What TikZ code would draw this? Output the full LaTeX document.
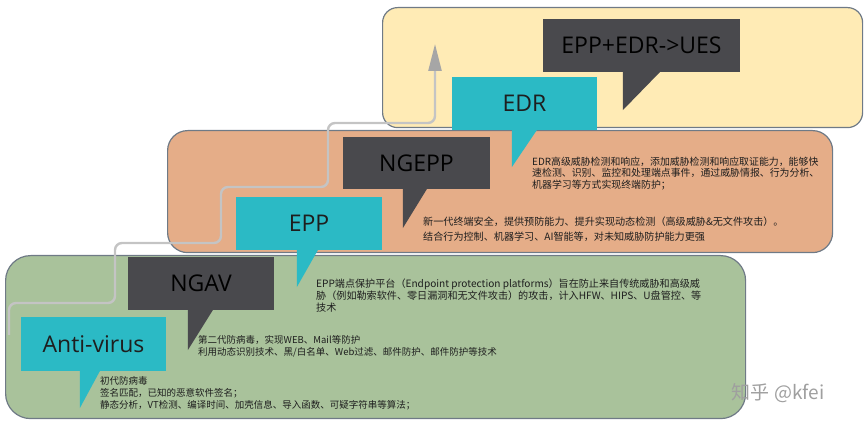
\documentclass[tikz,border=0pt]{standalone}
\usepackage{fontspec}
\setmainfont{Open Sans}
\newfontfamily\cjk{Noto Sans CJK SC}
\usetikzlibrary{calc,arrows.meta}
\definecolor{cteal}{HTML}{2BBAC5}
\definecolor{cdark}{HTML}{49494D}
\definecolor{cgreen}{HTML}{A9C29B}
\definecolor{corange}{HTML}{E5AD88}
\definecolor{cyellow}{HTML}{FFEBB5}
\definecolor{cborder}{HTML}{6F7A86}
\definecolor{cline}{HTML}{C4C4C4}
\definecolor{chead}{HTML}{A6A6A6}
\definecolor{ctext}{HTML}{1E1E1E}
\tikzset{
  stage/.style={draw=cborder, line width=1.2pt, inner sep=0pt, anchor=north west},
  tealbox/.style={fill=cteal, inner sep=0pt, text=ctext, font=\fontsize{23}{23}\selectfont},
  darkbox/.style={fill=cdark, inner sep=0pt, text=black, font=\fontsize{23}{23}\selectfont},
  desc/.style={anchor=north west, inner sep=0pt, align=left, text=ctext, font=\cjk\fontsize{9.5}{12}\selectfont},
  pathline/.style={draw=cline, line width=2.4pt, rounded corners=7pt},
}
\begin{document}
\begin{tikzpicture}[x=1pt,y=-1pt]
\useasboundingbox (0,0) rectangle (865,427);
% stage panels
\node[stage, fill=cyellow, rounded corners=15pt, minimum width=480pt, minimum height=120pt] (ues) at (382,7) {};
\node[stage, fill=corange, rounded corners=20pt, minimum width=665pt, minimum height=122pt] (ngepparea) at (167,130) {};
\node[stage, fill=cgreen, rounded corners=25pt, minimum width=740pt, minimum height=163pt] (avarea) at (5,255) {};
% evolution path
\coordinate (ps) at (9,335);
\coordinate (pe) at (435,44);
\draw[pathline, -{Triangle[length=27pt,width=13pt,color=chead,fill=chead]}]
  (ps) -- (9,303) -- (115,303) -- (115,243) -- (221,243) -- (221,187) -- (328,187) -- (328,123) -- (435,123) -- (pe);
% callouts
\node[darkbox, minimum width=197pt, minimum height=53pt] (uesL) at (641.5,45.5) {EPP+EDR->UES};
\fill[cdark] ($(uesL.south west)+(80,0)$) -- ++(0,38) -- ($(uesL.south west)+(117,0)$) -- cycle;
\node[tealbox, minimum width=145pt, minimum height=53pt] (edrL) at (524.5,103.5) {EDR};
\fill[cteal] ($(edrL.south west)+(60,0)$) -- ++(0,37) -- ($(edrL.south west)+(85,0)$) -- cycle;
\node[darkbox, minimum width=147pt, minimum height=52pt] (ngeppL) at (416.5,163) {NGEPP};
\fill[cdark] ($(ngeppL.south west)+(60,0)$) -- ++(0,39) -- ($(ngeppL.south west)+(84,0)$) -- cycle;
\node[tealbox, minimum width=146pt, minimum height=53pt] (eppL) at (309,223.5) {EPP};
\fill[cteal] ($(eppL.south west)+(61,0)$) -- ++(0,37) -- ($(eppL.south west)+(82,0)$) -- cycle;
\node[darkbox, minimum width=146pt, minimum height=53pt] (ngavL) at (201,283.5) {NGAV};
\fill[cdark] ($(ngavL.south west)+(60,0)$) -- ++(0,40) -- ($(ngavL.south west)+(85,0)$) -- cycle;
\node[tealbox, minimum width=145pt, minimum height=54pt] (avL) at (93.5,344) {Anti-virus};
\fill[cteal] ($(avL.south west)+(59,0)$) -- ++(0,37) -- ($(avL.south west)+(79,0)$) -- cycle;
% descriptions
\node[desc] (avT) at (100,376) {初代防病毒\\签名匹配，已知的恶意软件签名；\\静态分析，VT检测、编译时间、加壳信息、导入函数、可疑字符串等算法；};
\node[desc] (ngavT) at (198,335) {第二代防病毒，实现WEB、Mail等防护\\利用动态识别技术、黑/白名单、Web过滤、邮件防护、邮件防护等技术};
\node[desc, font=\cjk\fontsize{10.1}{12}\selectfont] (eppT) at (316,278.5) {EPP端点保护平台（Endpoint protection platforms）旨在防止来自传统威胁和高级威\\胁（例如勒索软件、零日漏洞和无文件攻击）的攻击，计入HFW、HIPS、U盘管控、等\\技术};
\node[desc, font=\cjk\fontsize{10.1}{15}\selectfont] (ngeppT) at (423,216.5) {新一代终端安全，提供预防能力、提升实现动态检测（高级威胁\&无文件攻击）。\\结合行为控制、机器学习、AI智能等，对未知威胁防护能力更强};
\node[desc, font=\cjk\fontsize{9.9}{11.5}\selectfont] (edrT) at (532,156.5) {EDR高级威胁检测和响应，添加威胁检测和响应取证能力，能够快\\速检测、识别、监控和处理端点事件，通过威胁情报、行为分析、\\机器学习等方式实现终端防护；};
% watermark
\node[inner sep=0pt, text=gray!75, font=\cjk\fontsize{19}{19}\selectfont] (wm) at (778,393) {知乎 @kfei};
\end{tikzpicture}
\end{document}
